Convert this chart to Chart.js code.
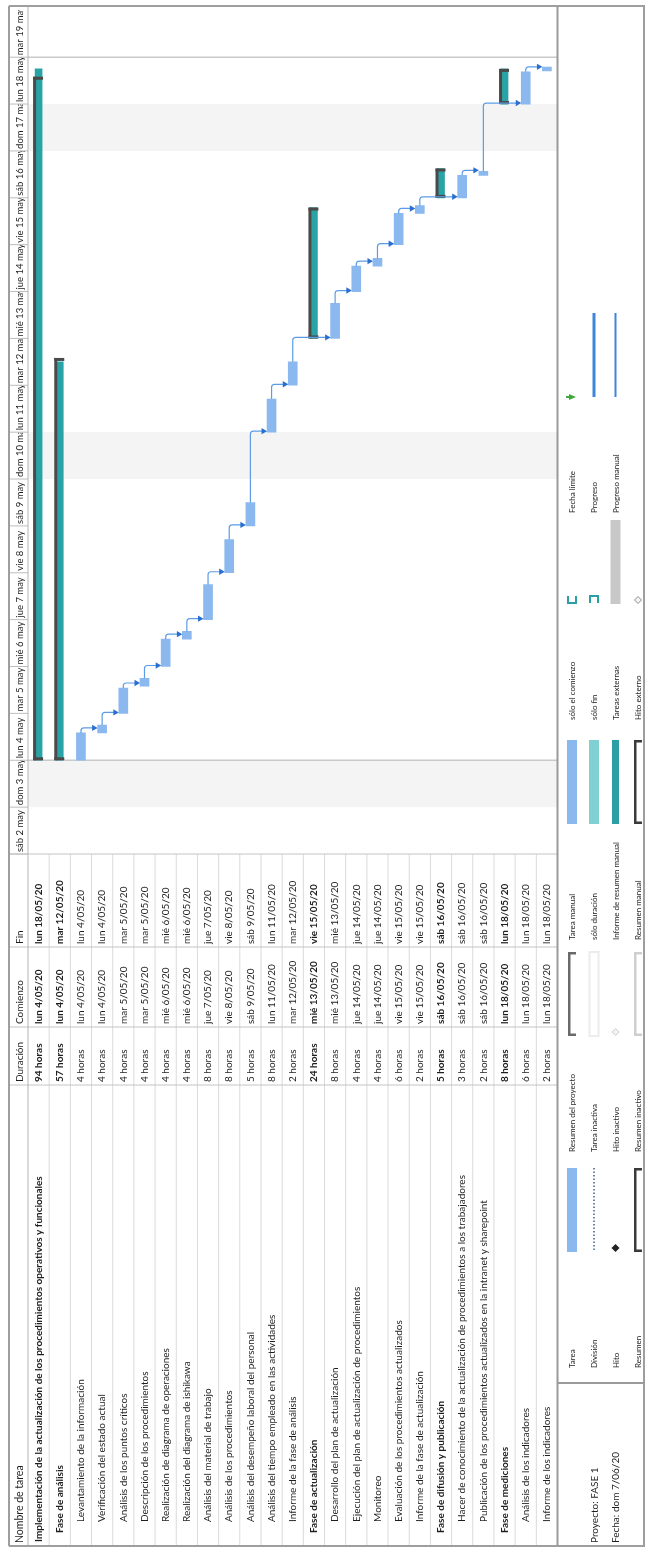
<!DOCTYPE html>
<html lang="es">
<head>
<meta charset="utf-8">
<title>Proyecto: FASE 1 - Diagrama de Gantt</title>
<script src="https://cdn.jsdelivr.net/npm/chart.js@4.4.1/dist/chart.umd.min.js"></script>
<style>
  html, body { margin: 0; padding: 0; background: #fff; }
  canvas { display: block; }
</style>
</head>
<body>
<canvas id="gantt" width="645" height="1548"></canvas>
<script>
const taskNames = [
  "Implementación de la actualización de los procedimientos operativos y funcionales",
  "Fase de análisis",
  "Levantamiento de la información",
  "Verificación del estado actual",
  "Análisis de los puntos críticos",
  "Descripción de los procedimientos",
  "Realización de diagrama de operaciones",
  "Realización del diagrama de ishikawa",
  "Análisis del material de trabajo",
  "Análisis de los procedimientos",
  "Análisis del desempeño laboral del personal",
  "Análisis del tiempo empleado en las actividades",
  "Informe de la fase de análisis",
  "Fase de actualización",
  "Desarrollo del plan de actualización",
  "Ejecución del plan de actualización de procedimientos",
  "Monitoreo",
  "Evaluación de los procedimientos actualizados",
  "Informe de la fase de actualización",
  "Fase de difusión y publicación",
  "Hacer de conocimiento de la actualización de procedimientos a los trabajadores",
  "Publicación de los procedimientos actualizados en la intranet y sharepoint",
  "Fase de mediciones",
  "Análisis de los indicadores",
  "Informe de los indicadores"
];
const durations = ["94 horas", "57 horas", "4 horas", "4 horas", "4 horas", "4 horas", "4 horas", "4 horas",
  "8 horas", "8 horas", "5 horas", "8 horas", "2 horas", "24 horas", "8 horas", "4 horas", "4 horas",
  "6 horas", "2 horas", "5 horas", "3 horas", "2 horas", "8 horas", "6 horas", "2 horas"];
const startDates = ["lun 4/05/20", "lun 4/05/20", "lun 4/05/20", "lun 4/05/20", "mar 5/05/20", "mar 5/05/20",
  "mié 6/05/20", "mié 6/05/20", "jue 7/05/20", "vie 8/05/20", "sáb 9/05/20", "lun 11/05/20", "mar 12/05/20",
  "mié 13/05/20", "mié 13/05/20", "jue 14/05/20", "jue 14/05/20", "vie 15/05/20", "vie 15/05/20",
  "sáb 16/05/20", "sáb 16/05/20", "sáb 16/05/20", "lun 18/05/20", "lun 18/05/20", "lun 18/05/20"];
const endDates = ["lun 18/05/20", "mar 12/05/20", "lun 4/05/20", "lun 4/05/20", "mar 5/05/20", "mar 5/05/20",
  "mié 6/05/20", "mié 6/05/20", "jue 7/05/20", "vie 8/05/20", "sáb 9/05/20", "lun 11/05/20", "mar 12/05/20",
  "vie 15/05/20", "mié 13/05/20", "jue 14/05/20", "jue 14/05/20", "vie 15/05/20", "vie 15/05/20",
  "sáb 16/05/20", "sáb 16/05/20", "sáb 16/05/20", "lun 18/05/20", "lun 18/05/20", "lun 18/05/20"];
// 0 = proyecto, 1 = fase (resumen), 2 = tarea
const taskLevel = [0, 1, 2, 2, 2, 2, 2, 2, 2, 2, 2, 2, 2, 1, 2, 2, 2, 2, 2, 1, 2, 2, 1, 2, 2];

// horas desde sáb 2/05 00:00
const barStart = [48, 48, 48, 62, 72, 86, 96, 110, 120, 144, 168, 216, 240, 264, 264, 288, 301, 312, 328, 336, 336, 347.5, 384, 384, 401];
const barEnd = [398, 254, 62, 66, 85, 90, 110, 114, 138, 161, 180, 233, 252, 331, 282, 301, 305, 328, 332, 351, 347.5, 349.5, 402, 400.5, 403];
// barra verde azulada de los resúmenes (informe de resumen manual)
const summaryRollupEnd = [402, 252, null, null, null, null, null, null, null, null, null, null, null, 331,
  null, null, null, null, null, 351, null, null, 402, null, null];

// vínculos fin-comienzo (índices de fila)
const links = [[2, 3], [3, 4], [4, 5], [5, 6], [6, 7], [7, 8], [8, 9], [9, 10], [10, 11], [11, 12],
  [12, 14], [14, 15], [15, 16], [16, 17], [17, 18], [18, 20], [20, 21], [21, 23], [23, 24]];

const dayLabels = ["sáb 2 may", "dom 3 may", "lun 4 may", "mar 5 may", "mié 6 may", "jue 7 may", "vie 8 may",
  "sáb 9 may", "dom 10 may", "lun 11 may", "mar 12 may", "mié 13 may", "jue 14 may", "vie 15 may",
  "sáb 16 may", "dom 17 may", "lun 18 may", "mar 19 may"];
const nonWorkingDays = [1, 8, 15];
const projectLines = [48, 408];
const timeMax = 433.7;

const columnTitles = ["Nombre de tarea", "Duración", "Comienzo", "Fin"];
const legendLabels = [
  ["Tarea", "División", "Hito", "Resumen"],
  ["Resumen del proyecto", "Tarea inactiva", "Hito inactivo", "Resumen inactivo"],
  ["Tarea manual", "sólo duración", "Informe de resumen manual", "Resumen manual"],
  ["sólo el comienzo", "sólo fin", "Tareas externas", "Hito externo"],
  ["Fecha límite", "Progreso", "Progreso manual"]
];
const legendSymbols = [
  ["bar", "split", "milestone", "bracket"],
  ["projbracket", "inactive", "inmilestone", "inbracket"],
  ["bar", "duration", "rollup", "bracket"],
  ["startonly", "finishonly", "external", "extmilestone"],
  ["deadline", "progress", "manualprogress"]
];
const projectInfo = ["Proyecto: FASE 1", "Fecha: dom 7/06/20"];

// ---- dibujo ----
const FONT = "Lato, 'Open Sans', sans-serif";
const TEXT = "#1f1f1f";

function vtext(ctx, str, x, y, size, bold, color) {
  ctx.save();
  ctx.translate(x, y);
  ctx.rotate(-Math.PI / 2);
  ctx.font = (bold ? "bold " : "") + size + "px " + FONT;
  ctx.fillStyle = color || TEXT;
  ctx.textAlign = "left";
  ctx.textBaseline = "middle";
  ctx.fillText(str, 0, 0);
  ctx.restore();
}

function hline(ctx, x0, x1, y, color, w) {
  ctx.strokeStyle = color;
  ctx.lineWidth = w || 1;
  ctx.beginPath();
  ctx.moveTo(x0, y);
  ctx.lineTo(x1, y);
  ctx.stroke();
}

function vline(ctx, x, y0, y1, color, w) {
  ctx.strokeStyle = color;
  ctx.lineWidth = w || 1;
  ctx.beginPath();
  ctx.moveTo(x, y0);
  ctx.lineTo(x, y1);
  ctx.stroke();
}

function diamond(ctx, x, y, r, fill, stroke) {
  ctx.beginPath();
  ctx.moveTo(x, y - r);
  ctx.lineTo(x + r, y);
  ctx.lineTo(x, y + r);
  ctx.lineTo(x - r, y);
  ctx.closePath();
  if (fill) { ctx.fillStyle = fill; ctx.fill(); }
  if (stroke) { ctx.strokeStyle = stroke; ctx.lineWidth = 1; ctx.stroke(); }
}

function bracket(ctx, xc, yTop, yBot, color) {
  ctx.fillStyle = color;
  ctx.fillRect(xc - 4, yTop, 2.5, yBot - yTop);
  ctx.fillRect(xc - 4, yTop, 8, 2.5);
  ctx.fillRect(xc - 4, yBot - 2.5, 8, 2.5);
}

function legendSymbol(ctx, kind, xc, yTop, yBot) {
  ctx.save();
  switch (kind) {
    case "bar":
      ctx.fillStyle = "#8ab8ef"; ctx.fillRect(xc - 5, yTop, 10, yBot - yTop); break;
    case "split":
      ctx.setLineDash([1.5, 2]); vline(ctx, xc, yTop, yBot, "#3b5e94", 1.5); break;
    case "milestone":
      diamond(ctx, xc, yBot - 4, 4, "#222"); break;
    case "bracket":
      bracket(ctx, xc, yTop, yBot, "#3a3a3a"); break;
    case "projbracket":
      bracket(ctx, xc, yTop, yBot, "#6a6a6a"); break;
    case "inactive":
      ctx.strokeStyle = "#ececec"; ctx.strokeRect(xc - 4.5, yTop, 9, yBot - yTop); break;
    case "inmilestone":
      diamond(ctx, xc, yBot - 4, 3.5, "#f2f2f2", "#cfcfcf"); break;
    case "inbracket":
      bracket(ctx, xc, yTop, yBot, "#cfcfcf"); break;
    case "duration":
      ctx.fillStyle = "#7fd0d2"; ctx.fillRect(xc - 5, yTop, 10, yBot - yTop); break;
    case "rollup":
      ctx.fillStyle = "#2a9fa4"; ctx.fillRect(xc - 3.5, yTop, 7, yBot - yTop); break;
    case "startonly":
      ctx.strokeStyle = "#2a9fa4"; ctx.lineWidth = 2;
      ctx.beginPath(); ctx.moveTo(xc - 4, yBot - 8); ctx.lineTo(xc - 4, yBot - 1);
      ctx.lineTo(xc + 4, yBot - 1); ctx.lineTo(xc + 4, yBot - 8); ctx.stroke(); break;
    case "finishonly":
      ctx.strokeStyle = "#2a9fa4"; ctx.lineWidth = 2;
      ctx.beginPath(); ctx.moveTo(xc - 4, yBot - 1); ctx.lineTo(xc - 4, yBot - 8);
      ctx.lineTo(xc + 4, yBot - 8); ctx.lineTo(xc + 4, yBot - 1); ctx.stroke(); break;
    case "external":
      ctx.fillStyle = "#c8c8c8"; ctx.fillRect(xc - 5, yTop, 10, yBot - yTop); break;
    case "extmilestone":
      diamond(ctx, xc, yBot - 4, 3.5, "#f4f4f4", "#8a8a8a"); break;
    case "deadline":
      ctx.fillStyle = "#3faa3a";
      ctx.beginPath(); ctx.moveTo(xc - 3, yBot - 3); ctx.lineTo(xc + 4, yBot); ctx.lineTo(xc - 3, yBot + 3);
      ctx.closePath(); ctx.fill();
      ctx.fillRect(xc - 6, yBot - 1, 4, 2); break;
    case "progress":
      ctx.fillStyle = "#3d86dc"; ctx.fillRect(xc - 1.5, yTop, 3, yBot - yTop); break;
    case "manualprogress":
      ctx.fillStyle = "#3d86dc"; ctx.fillRect(xc - 1, yTop, 2, yBot - yTop); break;
  }
  ctx.restore();
}

const ganttDecor = {
  id: "ganttDecor",
  beforeDatasetsDraw(chart) {
    const { ctx, chartArea: a, scales: { y } } = chart;
    ctx.save();
    ctx.fillStyle = "#f4f4f4";
    nonWorkingDays.forEach((d) => {
      const top = Math.max(y.getPixelForValue((d + 1) * 24), a.top);
      const bot = Math.min(y.getPixelForValue(d * 24), a.bottom);
      ctx.fillRect(a.left, top, a.right - a.left, bot - top);
    });
    projectLines.forEach((h) => hline(ctx, a.left, a.right, y.getPixelForValue(h), "#cacaca", 1.5));
    ctx.restore();
  },
  afterDatasetsDraw(chart) {
    const { ctx, chartArea: a, scales: { x, y } } = chart;
    const rowW = (a.right - a.left) / taskNames.length;
    ctx.save();

    // corchetes de resumen
    taskNames.forEach((n, i) => {
      if (taskLevel[i] > 1) return;
      const xc = x.getPixelForValue(i);
      const y0 = y.getPixelForValue(barStart[i]);
      const y1 = y.getPixelForValue(barEnd[i]);
      ctx.fillStyle = "#4a4a4a";
      ctx.fillRect(xc - 5.5, y1, 3, y0 - y1);
      ctx.fillRect(xc - 5.5, y1, 10, 3);
      ctx.fillRect(xc - 5.5, y0 - 3, 10, 3);
    });

    // vínculos
    links.forEach(([p, q]) => {
      const xa = x.getPixelForValue(p);
      const xt = x.getPixelForValue(q) - 4.5;
      const yEnd = y.getPixelForValue(barEnd[p]);
      const yl = Math.min(yEnd - 5, y.getPixelForValue(barStart[q]) - 1);
      ctx.strokeStyle = "#5c9ce6";
      ctx.lineWidth = 1.2;
      ctx.beginPath();
      ctx.moveTo(xa, yEnd);
      ctx.lineTo(xa, yl + 3);
      ctx.quadraticCurveTo(xa, yl, xa + 3, yl);
      ctx.lineTo(xt - 4, yl);
      ctx.stroke();
      ctx.fillStyle = "#2a6fd0";
      ctx.beginPath();
      ctx.moveTo(xt - 5.5, yl - 3.2);
      ctx.lineTo(xt, yl);
      ctx.lineTo(xt - 5.5, yl + 3.2);
      ctx.closePath();
      ctx.fill();
    });

    // tabla
    const L = 9, R = 557.5, T = 6, B = 1546, HC = 28;
    const colFin = a.bottom, colCom = 947, colDur = 1027, colName = 1085;
    for (let i = 1; i < taskNames.length; i++) {
      const xs = a.left + i * rowW;
      vline(ctx, xs, colFin, B, "#dadada", 1);
    }
    [colFin, colCom, colDur, colName].forEach((yy) => hline(ctx, L, R, yy, "#c4c4c4", 1));

    const nameStart = [1542, 1533, 1522];
    taskNames.forEach((n, i) => {
      const xc = x.getPixelForValue(i);
      const bold = taskLevel[i] < 2;
      vtext(ctx, n, xc, nameStart[taskLevel[i]], 10, bold);
      vtext(ctx, durations[i], xc, colName - 3, 10, bold);
      vtext(ctx, startDates[i], xc, colDur - 3, 10, bold);
      vtext(ctx, endDates[i], xc, colCom - 3, 10, bold);
    });

    // columna de encabezados
    const hx = 19.5;
    vtext(ctx, columnTitles[0], hx, 1543, 10.5, false);
    vtext(ctx, columnTitles[1], hx, colName - 3, 10, false);
    vtext(ctx, columnTitles[2], hx, colDur - 3, 10, false);
    vtext(ctx, columnTitles[3], hx, colCom - 3, 10, false);

    dayLabels.forEach((lab, d) => {
      const bot = y.getPixelForValue(d * 24);
      const top = Math.max(y.getPixelForValue((d + 1) * 24), a.top);
      ctx.save();
      ctx.beginPath();
      ctx.rect(L, top, HC - L, bot - top);
      ctx.clip();
      vtext(ctx, lab, 20, bot - 2, 9.5, false);
      ctx.restore();
      hline(ctx, L, HC, bot, "#bdbdbd", 1);
    });

    // marcos
    vline(ctx, HC, T, B, "#b4b4b4", 1);
    hline(ctx, L, 645, T, "#9e9e9e", 2);
    hline(ctx, L, 645, B, "#9e9e9e", 2);
    vline(ctx, L, T, B, "#9e9e9e", 2);
    vline(ctx, 644, T, B, "#9e9e9e", 2);
    vline(ctx, R, T, B, "#9a9a9a", 2);
    hline(ctx, R, 645, 1383, "#9a9a9a", 2);

    // leyenda
    const legX = [572.5, 594.5, 616, 638.5];
    const legStart = [1368, 1152, 940, 720, 513];
    legendLabels.forEach((grp, g) => {
      grp.forEach((lab, k) => {
        vtext(ctx, lab, legX[k], legStart[g], 8, false);
        legendSymbol(ctx, legendSymbols[g][k], legX[k] - 0.5, legStart[g] - 200, legStart[g] - 116);
      });
    });
    vtext(ctx, projectInfo[0], 595, 1543, 10, false);
    vtext(ctx, projectInfo[1], 616, 1543, 10, false);

    ctx.restore();
  }
};

new Chart(document.getElementById("gantt"), {
  type: "bar",
  data: {
    labels: taskNames,
    datasets: [
      {
        label: "Tareas",
        data: taskNames.map((n, i) => (taskLevel[i] < 2 ? null : [barStart[i], barEnd[i]])),
        backgroundColor: "#8ab8ef",
        barThickness: 9,
        grouped: false,
        borderSkipped: false
      },
      {
        label: "Resumen",
        data: taskNames.map((n, i) => (summaryRollupEnd[i] == null ? null : [barStart[i], summaryRollupEnd[i]])),
        backgroundColor: "#2aa3a7",
        barThickness: 7,
        grouped: false,
        borderSkipped: false
      }
    ]
  },
  options: {
    responsive: false,
    animation: false,
    events: [],
    layout: { padding: { left: 28, right: 87.5, top: 7, bottom: 694 } },
    scales: {
      x: { type: "category", display: false, offset: true },
      y: { type: "linear", display: false, min: 0, max: timeMax }
    },
    plugins: {
      legend: { display: false },
      tooltip: { enabled: false }
    }
  },
  plugins: [ganttDecor]
});
</script>
</body>
</html>
